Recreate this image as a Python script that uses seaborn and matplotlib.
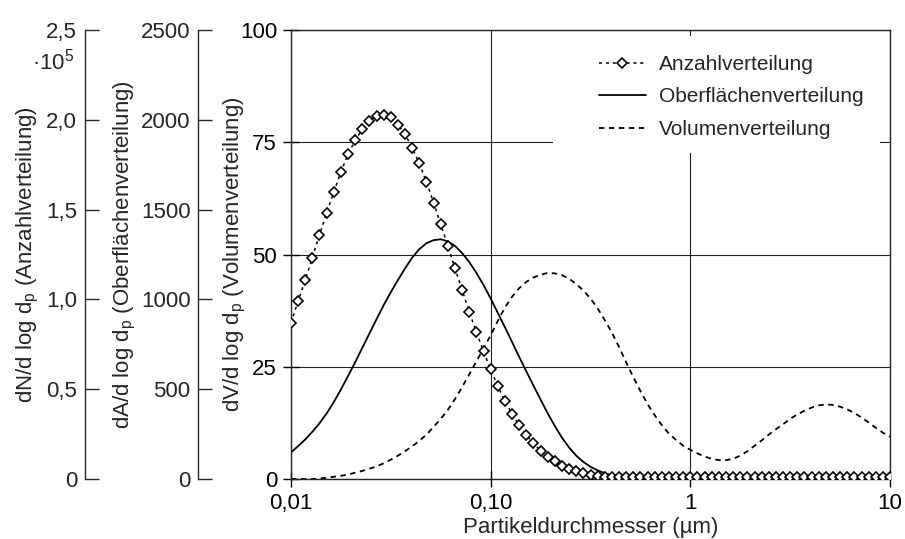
import numpy as np
import matplotlib
matplotlib.use('Agg')
import matplotlib.pyplot as plt
from matplotlib.patches import Rectangle
from matplotlib.ticker import NullLocator
import seaborn as sns

# particle diameter grid (µm): log grid, 28 points per decade, 0,01 ... 10
dp = np.logspace(-2, 1, 85)

# Anzahlverteilung (x 10^5)
n_vals = [0.870, 0.990, 1.108, 1.233, 1.360, 1.480, 1.598, 1.710, 1.808, 1.885,
          1.948, 1.995, 2.023, 2.028, 2.013, 1.973, 1.920, 1.843, 1.758, 1.653,
          1.538, 1.418, 1.298, 1.173, 1.053, 0.930, 0.818, 0.710, 0.610, 0.518,
          0.435, 0.363, 0.298, 0.243, 0.198, 0.158, 0.125, 0.098, 0.075, 0.058,
          0.045, 0.035, 0.025, 0.018, 0.013, 0.012, 0.012, 0.012, 0.012, 0.012,
          0.012, 0.012, 0.012, 0.012, 0.012, 0.012, 0.012, 0.012, 0.012, 0.012,
          0.012, 0.012, 0.012, 0.012, 0.012, 0.012, 0.012, 0.012, 0.012, 0.012,
          0.012, 0.012, 0.012, 0.012, 0.012, 0.012, 0.012, 0.012, 0.012, 0.012,
          0.012, 0.012, 0.012, 0.012, 0.012]

# Oberflächenverteilung
a_vals = [148, 183, 220, 263, 310, 365, 428, 498, 573, 650,
          730, 810, 890, 968, 1040, 1108, 1173, 1233, 1280, 1313,
          1330, 1335, 1323, 1298, 1258, 1208, 1148, 1080, 1005, 925,
          845, 763, 680, 600, 520, 443, 365, 295, 230, 175,
          130, 95, 68, 48, 33, 20, 13, 8, 3, 0,
          0, 0, 0, 0, 0, 0, 0, 0, 0, 0,
          0, 0, 0, 0, 0, 0, 0, 0, 0, 0,
          0, 0, 0, 0, 0, 0, 0, 0, 0, 0,
          0, 0, 0, 0, 0]

# Volumenverteilung
v_vals = [0.0, 0.0, 0.0, 0.0, 0.1, 0.3, 0.5, 0.7, 1.0, 1.4,
          1.8, 2.3, 2.8, 3.5, 4.3, 5.2, 6.2, 7.3, 8.5, 9.9,
          11.6, 13.4, 15.4, 17.8, 20.5, 23.3, 26.2, 29.1, 32.0, 35.2,
          38.2, 40.6, 42.5, 43.9, 44.9, 45.5, 45.9, 45.8, 45.4, 44.6,
          43.4, 42.0, 40.2, 38.0, 35.4, 32.6, 29.4, 26.0, 22.7, 19.6,
          16.7, 14.2, 12.0, 10.1, 8.7, 7.4, 6.5, 5.7, 5.0, 4.5,
          4.2, 4.2, 4.5, 5.2, 6.2, 7.4, 8.6, 9.9, 11.1, 12.2,
          13.4, 14.4, 15.2, 15.9, 16.4, 16.6, 16.5, 16.1, 15.5, 14.7,
          13.7, 12.6, 11.4, 10.3, 9.4]

x_ticks = [0.01, 0.1, 1, 10]
x_ticklabels = ['0,01', '0,10', '1', '10']
v_ticks = [0, 25, 50, 75, 100]
a_ticks = [0, 500, 1000, 1500, 2000, 2500]
n_ticks = [0, 0.5, 1.0, 1.5, 2.0, 2.5]
n_ticklabels = ['0', '0,5', '1,0', '1,5', '2,0', '2,5']
labels = ['Anzahlverteilung', 'Oberflächenverteilung', 'Volumenverteilung']

sns.set_style('ticks')
plt.rcParams['font.family'] = ['Liberation Sans', 'DejaVu Sans']
plt.rcParams['axes.linewidth'] = 1.0
fs = 16

fig = plt.figure(figsize=(9.05, 5.39), dpi=100)
ax = fig.add_axes([0.3215, 0.1113, 0.662, 0.833])
ax.set_xscale('log')
ax.set_xlim(0.01, 10)
ax.set_ylim(0, 100)
ax.xaxis.set_minor_locator(NullLocator())
ax.set_xticks(x_ticks)
ax.set_xticklabels(x_ticklabels)
ax.set_yticks(v_ticks)
ax.grid(True, which='major', color='#222222', lw=0.8)
ax.set_axisbelow(True)
ax.tick_params(direction='inout', length=12, width=1, labelsize=fs, colors='black', pad=4)
ax.set_xlabel('Partikeldurchmesser (µm)', fontsize=fs, labelpad=2)
ax.set_ylabel(r'dV/d log d$_\mathregular{p}$ (Volumenverteilung)', fontsize=fs, labelpad=-6)

# white box behind the legend hides the grid lines there
ax.add_patch(Rectangle((0.437, 0.726), 0.546, 0.261, transform=ax.transAxes,
                       facecolor='white', edgecolor='none', zorder=1))

# extra y axes on the left
ax_a = ax.twinx()
ax_n = ax.twinx()
for tw, pos, lim, ticks in [(ax_a, -0.155, (0, 2500), a_ticks), (ax_n, -0.344, (0, 2.5), n_ticks)]:
    for s in ['top', 'right', 'bottom']:
        tw.spines[s].set_visible(False)
    tw.spines['left'].set_visible(True)
    tw.spines['left'].set_position(('axes', pos))
    tw.yaxis.set_ticks_position('left')
    tw.yaxis.set_label_position('left')
    tw.set_ylim(*lim)
    tw.set_yticks(ticks)
    tw.tick_params(axis='y', direction='in', length=10, width=1, labelsize=fs, pad=5.5)
ax_n.set_yticklabels(n_ticklabels)
ax_a.set_ylabel(r'dA/d log d$_\mathregular{p}$ (Oberflächenverteilung)', fontsize=fs, labelpad=2)
ax_n.set_ylabel(r'dN/d log d$_\mathregular{p}$ (Anzahlverteilung)', fontsize=fs, labelpad=4)
ax_n.text(-0.362, 0.929, r'·10$^\mathregular{5}$', transform=ax.transAxes,
          ha='right', va='center', fontsize=fs)

sns.lineplot(x=dp, y=a_vals, ax=ax_a, color='black', lw=1.3, legend=False)
sns.lineplot(x=dp, y=v_vals, ax=ax, color='black', lw=1.3,
             linestyle=(0, (3, 2.5)), legend=False)
sns.lineplot(x=dp, y=n_vals, ax=ax_n, color='black', lw=1.1,
             linestyle=(0, (2, 2.5)), marker='D', markersize=5.5,
             markerfacecolor='white', markeredgecolor='black',
             markeredgewidth=1.2, legend=False)

handles = [ax_n.lines[0], ax_a.lines[0], ax.lines[-1]]
ax_n.legend(handles, labels, loc='upper left', bbox_to_anchor=(0.496, 0.968),
            frameon=False, borderpad=0, handlelength=2.3, handletextpad=0.6,
            labelspacing=0.65, fontsize=15)

fig.savefig('out.png', dpi=100)
